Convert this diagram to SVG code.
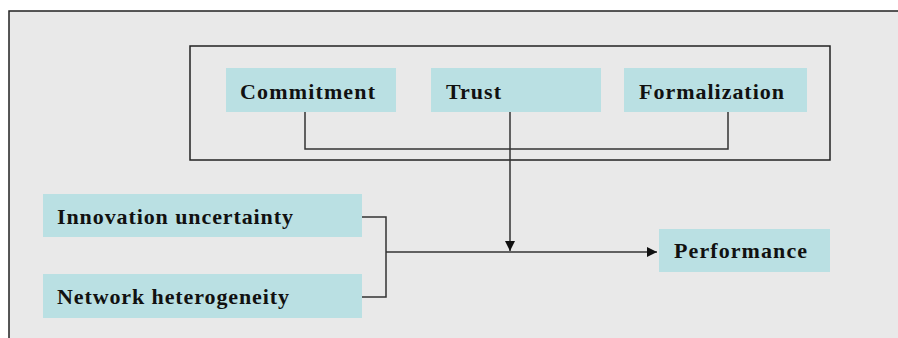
<svg xmlns="http://www.w3.org/2000/svg" width="898" height="338" viewBox="0 0 898 338">
<style>
.node rect{fill:#bae0e3}
.node text{font-family:"Liberation Serif","Times New Roman",serif;font-weight:bold;font-size:22px;fill:#111}
.conn{fill:none;stroke:#333;stroke-width:1.5}
</style>
<defs>
<marker id="ah" viewBox="0 0 10 10" refX="10" refY="5" markerWidth="10" markerHeight="10" markerUnits="userSpaceOnUse" orient="auto">
<path d="M0,0 L10,5 L0,10 Z" fill="#111"/>
</marker>
</defs>
<rect width="898" height="338" fill="#fff"/>
<rect x="9" y="11" width="900" height="340" fill="#e9e9e9" stroke="#222" stroke-width="1.5"/>
<g id="group-box">
<rect x="190" y="46" width="640" height="114" fill="none" stroke="#222" stroke-width="1.5"/>
</g>
<g id="commitment" class="node"><rect x="226" y="68" width="170" height="44"/><text x="240" y="98.5" textLength="135" lengthAdjust="spacing">Commitment</text></g>
<g id="trust" class="node"><rect x="431" y="68" width="170" height="44"/><text x="446" y="98.5" textLength="55" lengthAdjust="spacing">Trust</text></g>
<g id="formalization" class="node"><rect x="624" y="68" width="183" height="44"/><text x="639" y="98.5" textLength="145" lengthAdjust="spacing">Formalization</text></g>
<g id="innovation" class="node"><rect x="43" y="194" width="319" height="43"/><text x="57" y="223.5" textLength="236" lengthAdjust="spacing">Innovation uncertainty</text></g>
<g id="network" class="node"><rect x="43" y="274" width="319" height="44"/><text x="57" y="303.5" textLength="232" lengthAdjust="spacing">Network heterogeneity</text></g>
<g id="performance" class="node"><rect x="659" y="229" width="171" height="43"/><text x="674" y="258" textLength="133" lengthAdjust="spacing">Performance</text></g>
<g id="connectors">
<path class="conn" d="M305,112 V149 H728 V112"/>
<path class="conn" d="M510,112 V251" marker-end="url(#ah)"/>
<path class="conn" d="M362,217 H386 V297 H362"/>
<path class="conn" d="M386,252 H657" marker-end="url(#ah)"/>
</g>
</svg>
